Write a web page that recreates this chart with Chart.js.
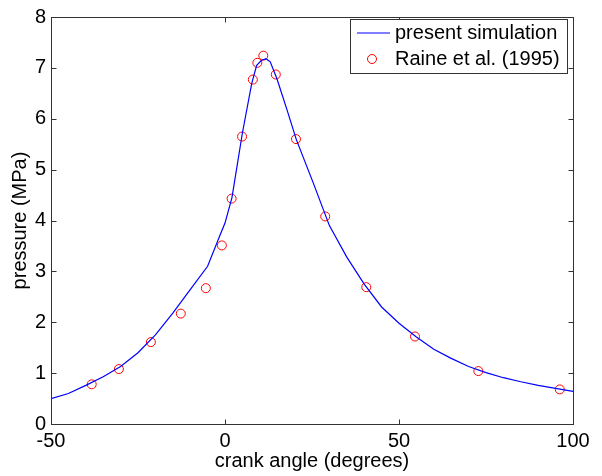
<!DOCTYPE html>
<html>
<head>
  <title>Cylinder pressure</title>
  <style>
    body { margin: 0; background: #fff; }
    canvas { display: block; }
  </style>
</head>
<body>
  <canvas id="pressureChart" width="602" height="476"></canvas>

  <script src="https://cdn.jsdelivr.net/npm/chart.js"></script>
  <script>
    // present simulation (curve)
    const simAngle = [-50, -45, -40, -35, -30, -25, -20, -15, -10, -5, -1.5, 0, 2, 5, 7.7, 9.1, 10.5, 11.8, 13, 14.9, 17.8, 20.5, 25.3, 30, 35, 40, 45, 50, 55, 60, 65, 70, 75, 80, 85, 90, 95, 100];
    const simPressure = [0.50, 0.60, 0.76, 0.93, 1.13, 1.40, 1.75, 2.18, 2.64, 3.10, 3.70, 3.95, 4.45, 5.72, 6.70, 7.05, 7.15, 7.18, 7.12, 6.79, 6.18, 5.59, 4.75, 3.90, 3.28, 2.75, 2.30, 1.98, 1.71, 1.47, 1.29, 1.13, 1.01, 0.91, 0.83, 0.76, 0.70, 0.64];

    // Raine et al. (1995) measurements
    const expAngle = [-38.3, -30.5, -21.3, -12.7, -5.5, -0.9, 1.9, 4.9, 8.0, 9.3, 11.0, 14.6, 20.4, 28.8, 40.6, 54.6, 72.8, 96.2];
    const expPressure = [0.78, 1.08, 1.61, 2.17, 2.67, 3.51, 4.43, 5.65, 6.77, 7.10, 7.24, 6.87, 5.60, 4.08, 2.69, 1.72, 1.04, 0.68];

    const xTickValues = [-50, 0, 50, 100];
    const yTickValues = [0, 1, 2, 3, 4, 5, 6, 7, 8];

    const fontFamily = '"Liberation Sans", Arial, Helvetica, sans-serif';
    const fontSize = 20;

    // box round the plot plus inward ticks on all four sides
    const framePlugin = {
      id: 'frame',
      afterDatasetsDraw(chart) {
        const ctx = chart.ctx;
        const a = chart.chartArea;
        const xs = chart.scales.x, ys = chart.scales.y;
        const L = Math.round(a.left) + 0.5, R = Math.round(a.right) + 0.5;
        const T = Math.round(a.top) + 0.5, B = Math.round(a.bottom) + 0.5;
        const tick = 5;
        ctx.save();
        ctx.strokeStyle = '#333';
        ctx.lineWidth = 1;
        ctx.strokeRect(L, T, R - L, B - T);
        ctx.beginPath();
        xTickValues.forEach(v => {
          const px = Math.round(xs.getPixelForValue(v)) + 0.5;
          ctx.moveTo(px, B); ctx.lineTo(px, B - tick);
          ctx.moveTo(px, T); ctx.lineTo(px, T + tick);
        });
        yTickValues.forEach(v => {
          const py = Math.round(ys.getPixelForValue(v)) + 0.5;
          ctx.moveTo(L, py); ctx.lineTo(L + tick, py);
          ctx.moveTo(R, py); ctx.lineTo(R - tick, py);
        });
        ctx.stroke();
        ctx.restore();
      },
      afterDraw(chart) {
        // legend box in the upper right corner
        const ctx = chart.ctx;
        const x0 = 350.5, y0 = 19.5, w = 217, h = 54;
        ctx.save();
        ctx.fillStyle = '#fff';
        ctx.fillRect(x0, y0, w, h);
        ctx.strokeStyle = '#333';
        ctx.lineWidth = 1;
        ctx.strokeRect(x0, y0, w, h);

        const d = chart.data.datasets;
        ctx.strokeStyle = d[0].borderColor;
        ctx.lineWidth = d[0].borderWidth;
        ctx.beginPath();
        ctx.moveTo(357, 33); ctx.lineTo(390, 33);
        ctx.stroke();

        ctx.strokeStyle = d[1].borderColor;
        ctx.lineWidth = d[1].borderWidth;
        ctx.beginPath();
        ctx.arc(372, 59, d[1].pointRadius, 0, Math.PI * 2);
        ctx.stroke();

        ctx.fillStyle = '#000';
        ctx.font = fontSize + 'px ' + fontFamily;
        ctx.textBaseline = 'middle';
        ctx.fillText(d[0].label, 395, 33);
        ctx.fillText(d[1].label, 395, 59);
        ctx.restore();
      }
    };

    const ctx = document.getElementById('pressureChart').getContext('2d');
    new Chart(ctx, {
      type: 'scatter',
      data: {
        datasets: [
          {
            label: 'present simulation',
            data: simAngle.map((a, i) => ({ x: a, y: simPressure[i] })),
            showLine: true,
            borderColor: '#0000ff',
            borderWidth: 1.2,
            pointRadius: 0,
            tension: 0
          },
          {
            label: 'Raine et al. (1995)',
            data: expAngle.map((a, i) => ({ x: a, y: expPressure[i] })),
            showLine: false,
            borderColor: '#ff0000',
            backgroundColor: 'rgba(0,0,0,0)',
            borderWidth: 1,
            pointRadius: 4.5
          }
        ]
      },
      options: {
        responsive: false,
        animation: false,
        layout: { padding: { left: 0, right: 29, top: 13, bottom: 0 } },
        plugins: {
          legend: { display: false },
          tooltip: { enabled: false }
        },
        scales: {
          x: {
            type: 'linear',
            min: -50,
            max: 100,
            afterBuildTicks: s => { s.ticks = xTickValues.map(v => ({ value: v })); },
            afterFit: s => { s.height = 52; },
            grid: { display: true, drawOnChartArea: false, drawTicks: false },
            border: { display: false },
            ticks: {
              color: '#000',
              font: { family: fontFamily, size: fontSize },
              padding: 5,
              maxRotation: 0
            },
            title: {
              display: true,
              text: 'crank angle (degrees)',
              color: '#000',
              font: { family: fontFamily, size: fontSize },
              padding: { top: 0, bottom: 3 }
            }
          },
          y: {
            min: 0,
            max: 8,
            afterBuildTicks: s => { s.ticks = yTickValues.map(v => ({ value: v })); },
            afterFit: s => { s.width = 51; },
            grid: { display: true, drawOnChartArea: false, drawTicks: false },
            border: { display: false },
            ticks: {
              color: '#000',
              font: { family: fontFamily, size: fontSize },
              padding: 5
            },
            title: {
              display: true,
              text: 'pressure (MPa)',
              color: '#000',
              font: { family: fontFamily, size: fontSize },
              padding: { top: 8, bottom: 0 }
            }
          }
        }
      },
      plugins: [framePlugin]
    });
  </script>
</body>
</html>
